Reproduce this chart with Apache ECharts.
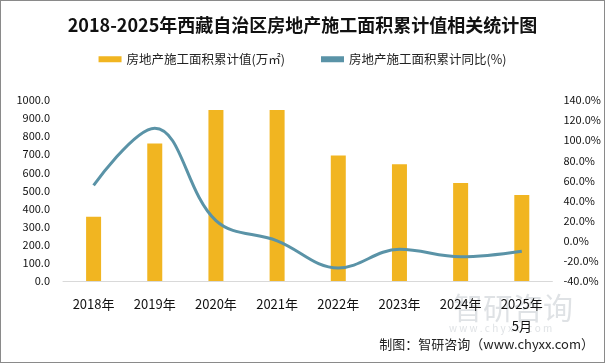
<!DOCTYPE html>
<html><head><meta charset="utf-8">
<script src="https://cdn.jsdelivr.net/npm/echarts@6/dist/echarts.min.js"></script>
<style>html,body{margin:0;padding:0;background:#fff}#c{width:605px;height:363px;box-sizing:border-box;border:1px solid #8a8a8a}</style>
</head><body><div id="c"></div>
<script>
const categories = ['2018年','2019年','2020年','2021年','2022年','2023年','2024年','2025年\n5月'];
const areaValues = [355, 760, 945, 945, 694, 645, 541, 475];
const yoyValues = [55, 112, 20, 0, -27, -8.5, -16, -10.5];
const leftTicks = {min: 0, max: 1000, interval: 100};
const rightTicks = {min: -40, max: 140, interval: 20};
const seriesNames = ['房地产施工面积累计值(万㎡)', '房地产施工面积累计同比(%)'];

const chart = echarts.init(document.getElementById('c'));
const font = '"Microsoft YaHei","Noto Sans CJK SC",sans-serif';
chart.setOption({
  animation: false,
  title: {text: '2018-2025年西藏自治区房地产施工面积累计值相关统计图', left: 'center', top: 10,
    textStyle: {fontSize: 18, fontWeight: 'bold', color: '#111', fontFamily: font}},
  legend: {top: 47, left: 'center', itemGap: 36, itemWidth: 23, itemHeight: 6,
    textStyle: {fontSize: 12.5, color: '#222', fontFamily: font},
    data: [{name: seriesNames[0], icon: 'rect'}, {name: seriesNames[1], icon: 'rect', itemStyle: {color: '#5A93A7'}}]},
  grid: {left: 62, right: 49, top: 99, bottom: 81},
  xAxis: {type: 'category', data: categories,
    axisLine: {lineStyle: {color: '#d9d9d9'}}, axisTick: {show: false},
    axisLabel: {fontSize: 13, color: '#111', margin: 12, lineHeight: 22, fontFamily: font}},
  yAxis: [
    {type: 'value', min: leftTicks.min, max: leftTicks.max, interval: leftTicks.interval,
     splitLine: {show: false}, axisLine: {show: false}, axisTick: {show: false},
     axisLabel: {fontSize: 11, color: '#111', margin: 13, formatter: v => v.toFixed(1), fontFamily: font}},
    {type: 'value', min: rightTicks.min, max: rightTicks.max, interval: rightTicks.interval,
     splitLine: {show: false}, axisLine: {show: false}, axisTick: {show: false},
     axisLabel: {fontSize: 11, color: '#111', margin: 11, formatter: v => v.toFixed(1) + '%', fontFamily: font}}
  ],
  series: [
    {name: seriesNames[0], type: 'bar', data: areaValues, barWidth: 15,
     itemStyle: {color: '#F1B521'}},
    {name: seriesNames[1], type: 'line', yAxisIndex: 1, data: yoyValues, smooth: 0.38,
     symbol: 'none', lineStyle: {color: '#5A93A7', width: 3}, itemStyle: {color: '#5A93A7'}}
  ],
  graphic: [
    {type: 'text', left: 452, top: 292, style: {text: '智研咨询', fontSize: 30, fill: 'rgba(150,160,170,0.3)', fontFamily: font}},
    {type: 'text', left: 448, top: 322, style: {text: 'w w w . c h y x x . c o m', fontSize: 10, fill: 'rgba(150,160,170,0.3)', fontFamily: font}},
    {type: 'text', right: 10, top: 337, style: {text: '制图：智研咨询（www.chyxx.com）', fontSize: 13, fill: '#222', fontFamily: font}}
  ]
});
</script></body></html>
